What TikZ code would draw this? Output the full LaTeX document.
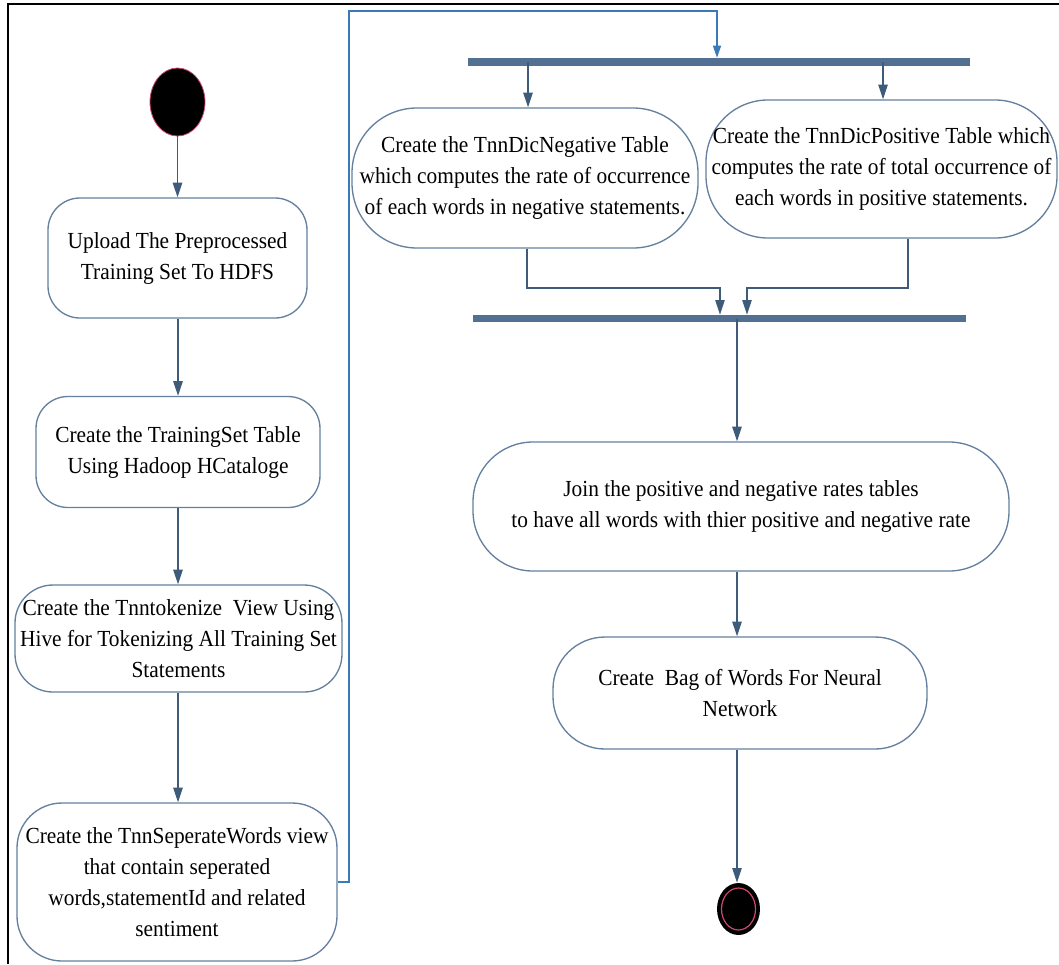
\documentclass[tikz,border=0pt]{standalone}
\usepackage{fontspec}
\setmainfont{Liberation Serif}[FakeStretch=0.93]
\usetikzlibrary{arrows.meta,shapes.geometric}
\definecolor{boxedge}{RGB}{100,128,158}
\definecolor{flowline}{RGB}{62,92,122}
\definecolor{barfill}{RGB}{82,112,146}
\definecolor{loopline}{RGB}{58,122,182}
\definecolor{ringpink}{RGB}{205,70,110}
\begin{document}
\begin{tikzpicture}[x=0.75pt,y=-0.75pt,
  stepbox/.style={draw=boxedge, line width=1pt, fill=white, align=center,
    inner sep=0pt, text=black, font=\fontsize{17.25}{23.25}\selectfont},
  syncbar/.style={fill=barfill, draw=none, inner sep=0pt},
  flow/.style={draw=flowline, line width=1.1pt,
    -{Triangle[length=11pt,width=7pt]}},
  loopflow/.style={draw=loopline, line width=1pt,
    -{Triangle[length=9pt,width=6pt]}}]
\useasboundingbox (0,0) rectangle (1059,964);

% outer frame (top and left edges)
\draw[line width=1.6pt, black] (8,964) -- (8,4) -- (1059,4);

% initial and final states
\node[ellipse, fill=black, draw=ringpink, line width=0.6pt,
      minimum width=41.25pt, minimum height=51pt, inner sep=0pt] (start) at (177.5,102) {};
\node[ellipse, fill=black, draw=none,
      minimum width=32.25pt, minimum height=39pt, inner sep=0pt] (finish) at (738.5,909) {};
\node[ellipse, draw=ringpink, line width=0.9pt,
      minimum width=25.5pt, minimum height=31.5pt, inner sep=0pt] (finishring) at (738.5,909) {};

% left column of actions
\node[stepbox, minimum width=194.25pt, minimum height=90pt, rounded corners=24pt]
  (box1) at (177.5,258) {Upload The Preprocessed\\Training Set To HDFS};
\node[stepbox, minimum width=213pt, minimum height=83.25pt, rounded corners=24pt]
  (box2) at (178,452) {Create the TrainingSet Table\\Using Hadoop HCataloge};
\node[stepbox, minimum width=245.25pt, minimum height=80.25pt, rounded corners=28.5pt]
  (box3) at (178.5,638.5) {Create the Tnntokenize~ View Using\\Hive for Tokenizing All Training Set\\Statements};
\node[stepbox, minimum width=240pt, minimum height=118.5pt, rounded corners=33.75pt]
  (box4) at (177,882) {Create the TnnSeperateWords view\\that contain seperated\\words,statementId and related\\sentiment};

% right column of actions
\node[stepbox, minimum width=259.5pt, minimum height=105pt, rounded corners=48.75pt]
  (neg) at (525,178) {Create the TnnDicNegative Table\\which computes the rate of occurrence\\of each words in negative statements.};
\node[stepbox, minimum width=263.25pt, minimum height=103.5pt, rounded corners=46.5pt]
  (pos) at (881.5,169) {Create the TnnDicPositive Table which\\computes the rate of total occurrence of\\each words in positive statements.};
\node[stepbox, minimum width=402pt, minimum height=96.75pt, rounded corners=45pt]
  (join) at (741,506.5) {Join the positive and negative rates tables\\to have all words with thier positive and negative rate};
\node[stepbox, minimum width=280.5pt, minimum height=84pt, rounded corners=39pt]
  (bag) at (740,693) {Create~ Bag of Words For Neural\\Network};

% fork and join bars
\node[syncbar, minimum width=376.5pt, minimum height=6pt] (bar1) at (719,62) {};
\node[syncbar, minimum width=369.75pt, minimum height=5.25pt] (bar2) at (719.5,318.5) {};

% routing points
\coordinate (loopa) at (349,11);
\coordinate (loopb) at (717,11);
\coordinate (negx) at (528,0);
\coordinate (posx) at (883,0);
\coordinate (negout) at (527,0);
\coordinate (posout) at (908,0);
\coordinate (mergel) at (720,288);
\coordinate (merger) at (747,288);
\coordinate (midx) at (737,0);
\coordinate (leftx) at (178,0);

% left column flow
\draw[flow] (start.south) -- (start.south |- box1.north);
\draw[flow] (box1.south -| leftx) -- (box2.north -| leftx);
\draw[flow] (box2.south -| leftx) -- (box3.north -| leftx);
\draw[flow] (box3.south -| leftx) -- (box4.north -| leftx);

% jump to the fork bar
\draw[loopflow] (box4.east) -| (loopa) -- (loopb) -- (loopb |- bar1.north);

% fork to the two dictionary tables
\draw[flow] (bar1.center -| negx) -- (neg.north -| negx);
\draw[flow] (bar1.center -| posx) -- (pos.north -| posx);

% tables into the join bar
\draw[flow] (neg.south -| negout) |- (mergel) -- (mergel |- bar2.north);
\draw[flow] (pos.south -| posout) |- (merger) -- (merger |- bar2.north);

% right column flow
\draw[flow] (bar2.center -| midx) -- (join.north -| midx);
\draw[flow] (join.south -| midx) -- (bag.north -| midx);
\draw[flow] (bag.south -| midx) -- (finish.north -| midx);
\end{tikzpicture}
\end{document}
